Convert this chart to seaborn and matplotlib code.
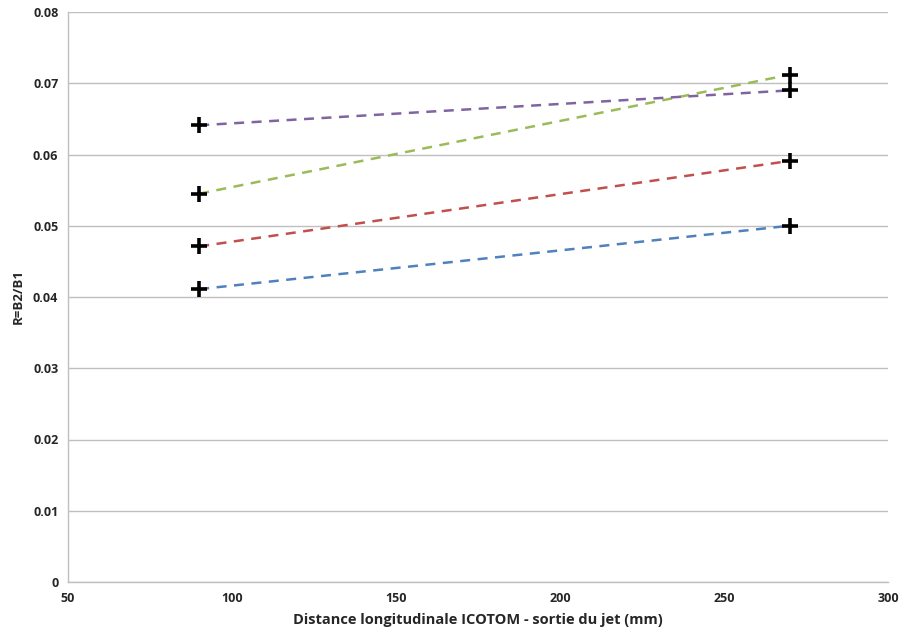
import matplotlib
matplotlib.use("Agg")
import matplotlib.pyplot as plt
import pandas as pd
import seaborn as sns

# Data
distance = [90, 270]
series_names = ["s1", "s2", "s3", "s4"]
ratio_s1 = [0.0411, 0.0500]
ratio_s2 = [0.0471, 0.0591]
ratio_s3 = [0.0545, 0.0712]
ratio_s4 = [0.0641, 0.0690]

x_ticks = [50, 100, 150, 200, 250, 300]
y_ticks = [0, 0.01, 0.02, 0.03, 0.04, 0.05, 0.06, 0.07, 0.08]
y_ticklabels = ["0", "0.01", "0.02", "0.03", "0.04", "0.05", "0.06", "0.07", "0.08"]

colors = ["#4F81BD", "#C0504D", "#9BBB59", "#8064A2"]

df = pd.DataFrame({
    "x": distance * 4,
    "R": ratio_s1 + ratio_s2 + ratio_s3 + ratio_s4,
    "serie": [n for n in series_names for _ in distance],
})

sns.set_theme(style="white")
plt.rcParams["font.family"] = ["Open Sans", "DejaVu Sans"]

fig = plt.figure(figsize=(9.01, 6.34), dpi=100)
ax = fig.add_axes([68 / 901, 52 / 634, 820 / 901, 570 / 634])

sns.lineplot(data=df, x="x", y="R", hue="serie", palette=colors, ax=ax,
             linestyle=(0, (4, 3)), linewidth=1.8, legend=False, sort=False)
sns.scatterplot(data=df, x="x", y="R", ax=ax, marker="+", color="black",
                s=130, linewidth=2.6, zorder=5, legend=False)

ax.set_xlim(50, 300)
ax.set_ylim(0, 0.08)
ax.set_xticks(x_ticks)
ax.set_yticks(y_ticks)
ax.set_xticklabels([str(t) for t in x_ticks], fontsize=9, fontweight="bold")
ax.set_yticklabels(y_ticklabels, fontsize=9, fontweight="bold")
ax.tick_params(axis="both", length=0, pad=7)
ax.grid(axis="y", color="#BFBFBF", linewidth=1)
ax.set_axisbelow(True)
for side in ["top", "right"]:
    ax.spines[side].set_visible(False)
for side in ["left", "bottom"]:
    ax.spines[side].set_color("#BFBFBF")
    ax.spines[side].set_linewidth(1)

ax.set_xlabel("Distance longitudinale ICOTOM - sortie du jet (mm)",
              fontsize=10.5, fontweight="bold", labelpad=6)
ax.set_ylabel("R=B2/B1", fontsize=9.5, fontweight="bold", labelpad=6)

fig.savefig("out.png", dpi=100)
